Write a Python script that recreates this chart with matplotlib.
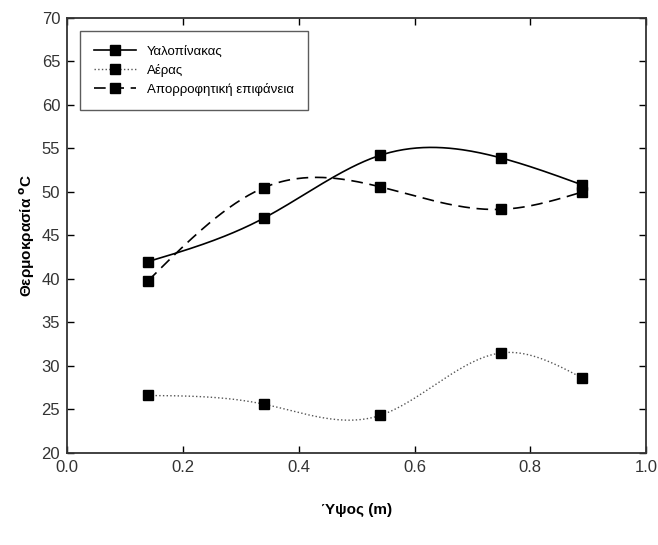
import numpy as np
import matplotlib
matplotlib.use('Agg')
import matplotlib.pyplot as plt

plt.rcParams['font.family'] = ['Liberation Sans', 'DejaVu Sans']

# heights (m) and temperatures (oC)
height = [0.14, 0.34, 0.54, 0.75, 0.89]
glass = [42.0, 47.0, 54.2, 53.9, 50.8]
air = [26.6, 25.6, 24.3, 31.5, 28.6]
absorber = [39.8, 50.5, 50.6, 48.0, 50.0]

labels = ['Υαλοπίνακας', 'Αέρας', 'Απορροφητική επιφάνεια']
styles = ['-', ':', (0, (7, 4))]
line_colors = ['black', '#555555', 'black']


def natural_spline(x, y, n=200):
    # plain natural cubic spline, only used to draw the smooth line
    x = np.asarray(x, float)
    y = np.asarray(y, float)
    k = len(x)
    h = np.diff(x)
    A = np.zeros((k, k))
    b = np.zeros(k)
    A[0, 0] = A[-1, -1] = 1
    for i in range(1, k - 1):
        A[i, i - 1] = h[i - 1]
        A[i, i] = 2 * (h[i - 1] + h[i])
        A[i, i + 1] = h[i]
        b[i] = 3 * ((y[i + 1] - y[i]) / h[i] - (y[i] - y[i - 1]) / h[i - 1])
    c = np.linalg.solve(A, b)
    xs = np.linspace(x[0], x[-1], n)
    idx = np.clip(np.searchsorted(x, xs) - 1, 0, k - 2)
    dx = xs - x[idx]
    bb = (y[idx + 1] - y[idx]) / h[idx] - h[idx] * (2 * c[idx] + c[idx + 1]) / 3
    d = (c[idx + 1] - c[idx]) / (3 * h[idx])
    ys = y[idx] + bb * dx + c[idx] * dx ** 2 + d * dx ** 3
    return xs, ys


fig = plt.figure(figsize=(6.58, 5.45), dpi=100)
ax = fig.add_axes([0.102, 0.169, 0.880, 0.798])

for vals, lab, ls, lc in zip([glass, air, absorber], labels, styles, line_colors):
    xs, ys = natural_spline(height, vals)
    lw = 1.0 if ls == ':' else 1.2
    ax.plot(xs, ys, color=lc, ls=ls, lw=lw)
    ax.plot(height, vals, ls='none', marker='s', ms=7, color='black')
    ax.plot([], [], color=lc, ls=ls, lw=lw, marker='s', ms=7, mfc='black',
            mec='black', label=lab)

ax.set_xlim(0, 1.0)
ax.set_ylim(20, 70)
ax.set_xticks(np.arange(0, 1.01, 0.2))
ax.set_yticks(np.arange(20, 71, 5))
ax.xaxis.set_major_formatter(matplotlib.ticker.FormatStrFormatter('%.1f'))
ax.tick_params(direction='in', length=5, width=1, labelsize=12, top=True, right=True,
               pad=5, colors='black', labelcolor='#333333')
for s in ax.spines.values():
    s.set_linewidth(1.3)
    s.set_color('#333333')

ax.set_xlabel('Ύψος (m)', fontsize=11, fontweight='bold', labelpad=20)
ax.set_ylabel('Θερμοκρασία $^{\\mathbf{o}}$C', fontsize=11, fontweight='bold')
ax.yaxis.set_label_coords(-0.052, 0.5)

leg = ax.legend(loc='upper left', fontsize=9.5, frameon=True, fancybox=False,
                edgecolor='#333333', handlelength=3.2, borderpad=1.1,
                labelspacing=0.45, bbox_to_anchor=(0.01, 0.985))
leg.get_frame().set_linewidth(1.0)

fig.savefig('out.png', dpi=100)
